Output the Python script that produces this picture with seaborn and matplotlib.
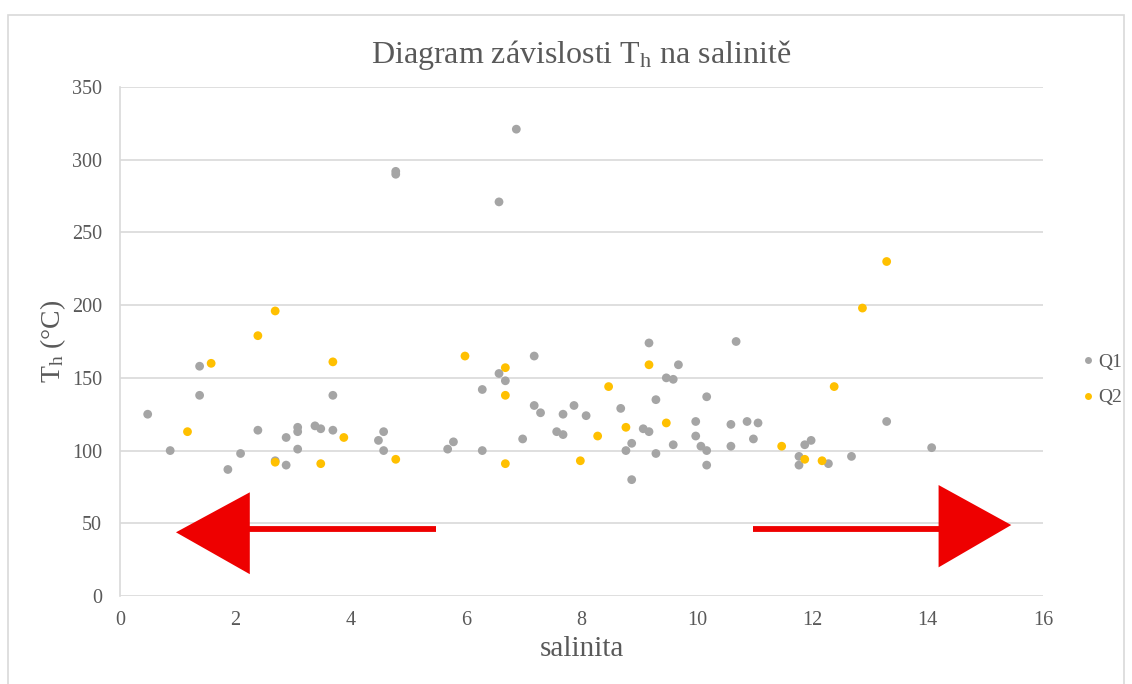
import pandas as pd
import matplotlib
matplotlib.use("Agg")
import matplotlib.pyplot as plt
import matplotlib.patches as patches
import seaborn as sns

# Data
q1_sal = [0.48, 0.87, 1.38, 1.38, 1.87, 2.09, 2.39, 2.69, 2.88, 2.88,
          3.08, 3.08, 3.08, 3.38, 3.48, 3.69, 3.69, 4.48, 4.57, 4.57,
          4.78, 4.78, 5.68, 5.78, 6.28, 6.28, 6.57, 6.57, 6.68, 6.87,
          6.98, 7.18, 7.18, 7.29, 7.57, 7.68, 7.68, 7.87, 8.08, 8.68,
          8.77, 8.87, 8.87, 9.07, 9.17, 9.17, 9.29, 9.29, 9.47, 9.59,
          9.59, 9.68, 9.98, 9.98, 10.07, 10.17, 10.17, 10.17, 10.59, 10.59,
          10.68, 10.87, 10.98, 11.06, 11.77, 11.77, 11.87, 11.98, 12.28, 12.68,
          13.29, 14.07]
q1_th = [125, 100, 158, 138, 87, 98, 114, 93, 109, 90,
         116, 113, 101, 117, 115, 114, 138, 107, 113, 100,
         292, 290, 101, 106, 142, 100, 271, 153, 148, 321,
         108, 165, 131, 126, 113, 111, 125, 131, 124, 129,
         100, 105, 80, 115, 113, 174, 98, 135, 150, 149,
         104, 159, 120, 110, 103, 100, 90, 137, 118, 103,
         175, 120, 108, 119, 96, 90, 104, 107, 91, 96,
         120, 102]

q2_sal = [1.17, 1.58, 2.39, 2.69, 2.69, 3.48, 3.69, 3.88, 4.78, 5.98,
          6.68, 6.68, 6.68, 7.98, 8.28, 8.47, 8.77, 9.17, 9.47, 11.47,
          11.87, 12.17, 12.38, 12.87, 13.29]
q2_th = [113, 160, 179, 196, 92, 91, 161, 109, 94, 165,
         157, 138, 91, 93, 110, 144, 116, 159, 119, 103,
         94, 93, 144, 198, 230]

x_ticks = [0, 2, 4, 6, 8, 10, 12, 14, 16]
y_ticks = [0, 50, 100, 150, 200, 250, 300, 350]

df = pd.DataFrame({
    "salinita": q1_sal + q2_sal,
    "Th": q1_th + q2_th,
    "serie": ["Q1"] * len(q1_sal) + ["Q2"] * len(q2_sal),
})

sns.set_style("white")
plt.rcParams["font.family"] = ["Liberation Serif", "DejaVu Serif"]
plt.rcParams["mathtext.fontset"] = "custom"
plt.rcParams["mathtext.rm"] = "Liberation Serif"
plt.rcParams["mathtext.it"] = "Liberation Serif"

txt = "#595959"
grid = "#D9D9D9"

fig = plt.figure(figsize=(11.32, 6.84), dpi=100)
ax = fig.add_axes([120 / 1132, 88 / 684, 923 / 1132, 509 / 684])

# frame around the chart
fig.patches.append(patches.Rectangle((8 / 1132, -0.01), 1116 / 1132, 1 - 15 / 684 + 0.01,
                                     transform=fig.transFigure, fill=False,
                                     edgecolor=grid, lw=1.2))

sns.scatterplot(data=df, x="salinita", y="Th", hue="serie",
                palette={"Q1": "#A5A5A5", "Q2": "#FFC000"},
                s=40, edgecolor="none", legend=False, ax=ax, zorder=3)

ax.set_xlim(0, 16)
ax.set_ylim(0, 350)
ax.set_xticks(x_ticks)
ax.set_yticks(y_ticks)
ax.yaxis.grid(True, color=grid, lw=1.2)
ax.set_axisbelow(True)
for s in ["top", "right", "bottom"]:
    ax.spines[s].set_visible(False)
ax.spines["left"].set_color(grid)
ax.spines["left"].set_linewidth(1.2)
ax.tick_params(axis="both", length=0, labelsize=14.5, colors=txt)
ax.tick_params(axis="y", pad=13)
ax.tick_params(axis="x", pad=11)

ax.set_title("Diagram závislosti T$_\\mathregular{h}$ na salinitě",
             fontsize=23, color=txt, pad=17)
ax.set_xlabel("salinita", fontsize=21, color=txt, labelpad=4)
ax.set_ylabel("T$_\\mathregular{h}$ (°C)", fontsize=20, color=txt, labelpad=3)

# red arrows
red = "#EE0000"
ax.plot([2.2, 5.47], [45.9, 45.9], color=red, lw=4.2, solid_capstyle="butt", zorder=4)
ax.add_patch(patches.Polygon([[0.97, 43.8], [2.25, 71.3], [2.25, 15.0]],
                             closed=True, color=red, lw=0, zorder=4))
ax.plot([10.97, 14.25], [45.9, 45.9], color=red, lw=4.2, solid_capstyle="butt", zorder=4)
ax.add_patch(patches.Polygon([[15.45, 48.8], [14.19, 76.3], [14.19, 19.7]],
                             closed=True, color=red, lw=0, zorder=4))

# legend
handles = [plt.Line2D([], [], marker="o", ls="", color=c, markersize=5, markeredgewidth=0)
           for c in ["#A5A5A5", "#FFC000"]]
leg = fig.legend(handles, ["Q1", "Q2"], loc="center left",
                 bbox_to_anchor=(1083 / 1132, 1 - 380 / 684),
                 frameon=False, fontsize=14, labelspacing=0.9,
                 handlelength=0.5, handletextpad=0.3,
                 borderpad=0, borderaxespad=0)
for t in leg.get_texts():
    t.set_color(txt)

fig.savefig("out.png", dpi=100)
